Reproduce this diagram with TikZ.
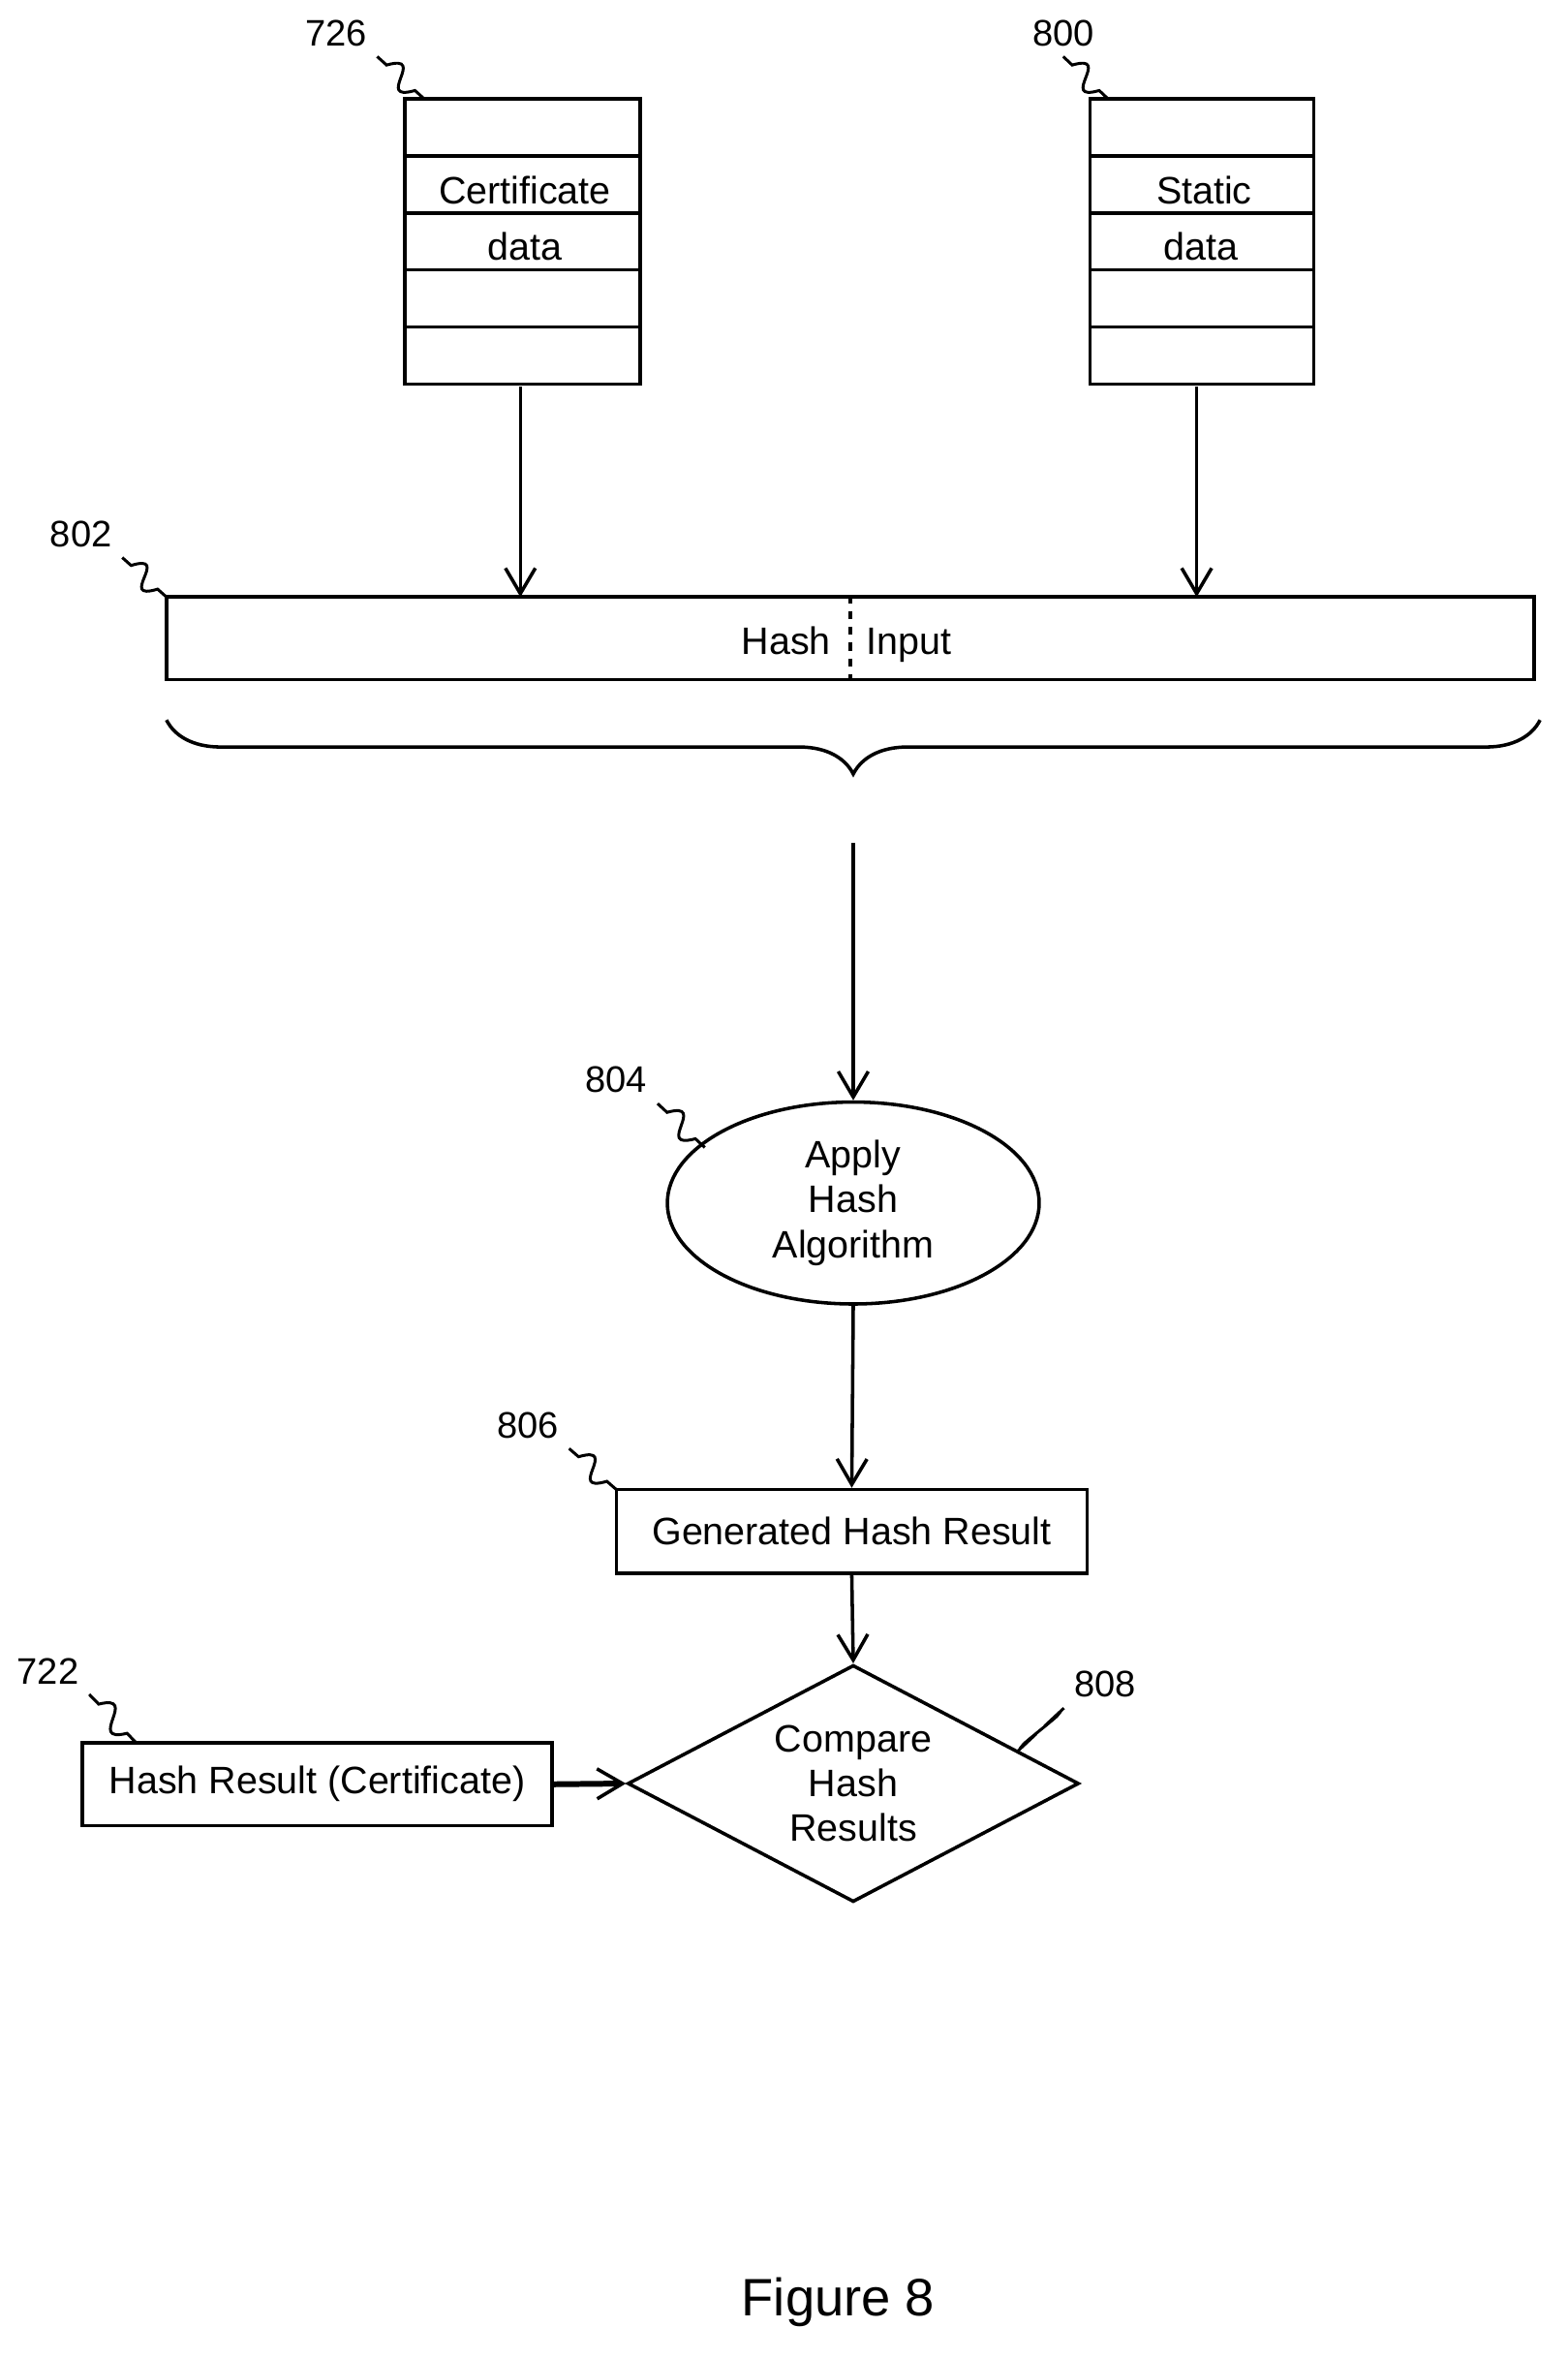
\documentclass[tikz,border=0pt]{standalone}
\usepackage{fontspec}
\setmainfont{Liberation Sans}
\usetikzlibrary{shapes.geometric,decorations.pathreplacing,calc,arrows.meta}
\tikzset{
  every picture/.style={line width=1.3pt},
  box/.style={draw,inner sep=0pt},
  flow/.style={-{Straight Barb[length=3.4mm,width=4mm,line width=1.3pt]}},
  lead/.style={line width=1.1pt,to path={-- ($(\tikztostart)!0.2!(\tikztotarget)$)
      .. controls ($(\tikztostart)!0.45!(\tikztotarget)+(20,-15)$) and ($(\tikztostart)!0.55!(\tikztotarget)+(-20,15)$)
      .. ($(\tikztostart)!0.8!(\tikztotarget)$) -- (\tikztotarget)}},
  num/.style={font=\fontsize{14}{16}\selectfont}
}
\begin{document}
\begin{tikzpicture}[x=0.02cm,y=-0.02cm,font=\fontsize{14.5}{17}\selectfont]
    \useasboundingbox (0,0) rectangle (1045,1572);

    % Data stacks
    \draw (270,66) rectangle (427,256);
    \draw (727,66) rectangle (876,256);
    \foreach \y in {104,142,180,218} {
        \draw (270,\y) -- (427,\y);
        \draw (727,\y) -- (876,\y);
    }
    \node (cert) at (350,127) {Certificate};
    \node (certd) at (350,164) {data};
    \node (stat) at (803,127) {Static};
    \node (statd) at (801,164) {data};
    \coordinate (certbot) at (347,258);
    \coordinate (statbot) at (798,258);

    % Hash input
    \node[box,minimum width=18.24cm,minimum height=1.1cm] (input) at (567,425.5) {};
    \draw[dashed] (input.north) -- (input.south);
    \node[anchor=base east] (hash) at (561,436) {Hash};
    \node[anchor=base west] (inp) at (571,436) {Input};
    \coordinate (certin) at (347,398);
    \coordinate (statin) at (798,398);
    \draw[flow] (certbot) -- (certin);
    \draw[flow] (statbot) -- (statin);

    % Brace
    \draw[decorate,decoration={brace,mirror,amplitude=0.72cm,aspect=0.5}] (111,480) -- (1027,480);
    \coordinate (bracetip) at (569,562);

    % Hash algorithm
    \node[draw,ellipse,minimum width=4.96cm,minimum height=2.68cm,align=center] (algo) at (569,802) {Apply\\Hash\\Algorithm};
    \draw[flow] (bracetip) -- (algo.north);

    \node[box,minimum width=6.28cm,minimum height=1.12cm] (gen) at (568,1021) {Generated Hash Result};
    \draw[flow] (algo.south) -- (gen.north);

    \node[draw,diamond,aspect=1.9,minimum width=6.02cm,minimum height=3.16cm,align=center,inner sep=0pt] (cmp) at (569,1189) {Compare\\Hash\\Results};
    \draw[flow] (gen.south) -- (cmp.north);

    \node[box,minimum width=6.26cm,minimum height=1.1cm] (cres) at (211.5,1189.5) {Hash Result (Certificate)};
    \draw[flow,line width=2.2pt] (cres.east) -- (cmp.west);

    % Reference numerals
    \node[num] (n726) at (224,22) {726};
    \node[num] (n800) at (709,22) {800};
    \node[num] (n802) at (54,356) {802};
    \node[num] (n804) at (411,720) {804};
    \node[num] (n806) at (352,950) {806};
    \node[num] (n722) at (32,1114) {722};
    \node[num] (n808) at (737,1123) {808};
    \coordinate (t726) at (283,66);
    \coordinate (t800) at (739,66);
    \coordinate (t802) at (111,398);
    \coordinate (t804) at (470,765);
    \coordinate (t806) at (411,993);
    \coordinate (t722) at (91,1162);
    \coordinate (t808) at (678,1168);
    \draw[lead] (n726.south east) to (t726);
    \draw[lead] (n800.south) to (t800);
    \draw[lead] (n802.south east) to (t802);
    \draw[lead] (n804.south east) to (t804);
    \draw[lead] (n806.south east) to (t806);
    \draw[lead] (n722.south east) to (t722);
    \draw[lead] (n808.south west) to (t808);

    \node[font=\fontsize{20}{24}\selectfont] (fig) at (559,1535) {Figure 8};
\end{tikzpicture}
\end{document}
